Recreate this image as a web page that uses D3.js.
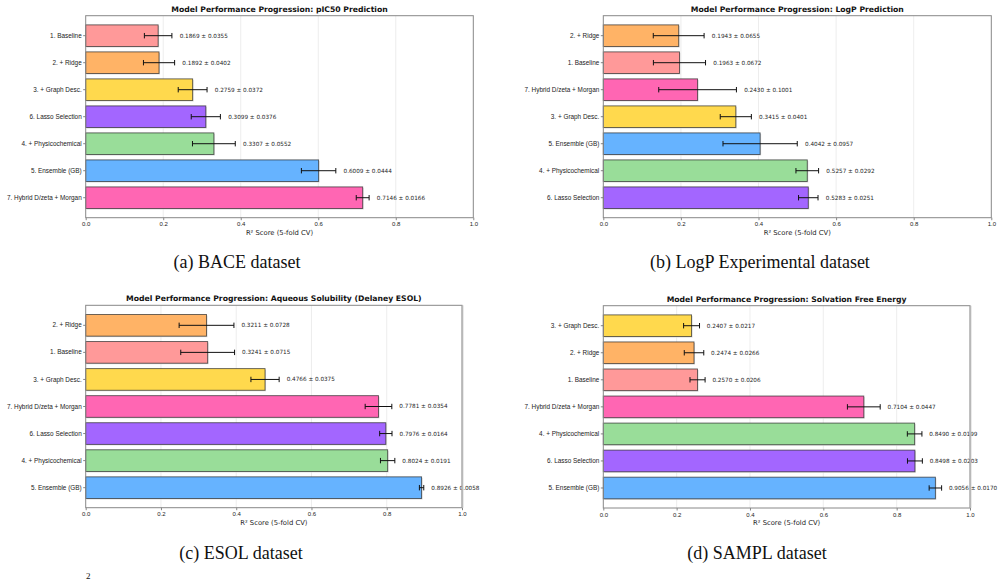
<!DOCTYPE html>
<html>
<head>
<meta charset="utf-8">
<script src="https://cdn.jsdelivr.net/npm/d3@7"></script>
<style>
  body { margin: 0; background: #fff; }
  svg { display: block; }
</style>
</head>
<body>
<div id="chart"></div>
<script>
// ---- data (top to bottom in each panel) ----
const baceMethods = ["1. Baseline", "2. + Ridge", "3. + Graph Desc.", "6. Lasso Selection", "4. + Physicochemical", "5. Ensemble (GB)", "7. Hybrid D/zeta + Morgan"];
const baceScores = [0.1869, 0.1892, 0.2759, 0.3099, 0.3307, 0.6009, 0.7146];
const baceStds = [0.0355, 0.0402, 0.0372, 0.0376, 0.0552, 0.0444, 0.0166];

const logpMethods = ["2. + Ridge", "1. Baseline", "7. Hybrid D/zeta + Morgan", "3. + Graph Desc.", "5. Ensemble (GB)", "4. + Physicochemical", "6. Lasso Selection"];
const logpScores = [0.1943, 0.1963, 0.2430, 0.3415, 0.4042, 0.5257, 0.5283];
const logpStds = [0.0655, 0.0672, 0.1001, 0.0401, 0.0957, 0.0292, 0.0251];

const esolMethods = ["2. + Ridge", "1. Baseline", "3. + Graph Desc.", "7. Hybrid D/zeta + Morgan", "6. Lasso Selection", "4. + Physicochemical", "5. Ensemble (GB)"];
const esolScores = [0.3211, 0.3241, 0.4766, 0.7781, 0.7976, 0.8024, 0.8926];
const esolStds = [0.0728, 0.0715, 0.0375, 0.0354, 0.0164, 0.0191, 0.0058];

const samplMethods = ["3. + Graph Desc.", "2. + Ridge", "1. Baseline", "7. Hybrid D/zeta + Morgan", "4. + Physicochemical", "6. Lasso Selection", "5. Ensemble (GB)"];
const samplScores = [0.2407, 0.2474, 0.2570, 0.7104, 0.8490, 0.8498, 0.9056];
const samplStds = [0.0217, 0.0266, 0.0206, 0.0447, 0.0199, 0.0203, 0.0170];

const xTicks = [0.0, 0.2, 0.4, 0.6, 0.8, 1.0];

const titles = [
  "Model Performance Progression: pIC50 Prediction",
  "Model Performance Progression: LogP Prediction",
  "Model Performance Progression: Aqueous Solubility (Delaney ESOL)",
  "Model Performance Progression: Solvation Free Energy"
];
const captions = ["(a) BACE dataset", "(b) LogP Experimental dataset", "(c) ESOL dataset", "(d) SAMPL dataset"];
const xLabel = "R² Score (5-fold CV)";

// colours keyed by method
const methodColor = {
  "1. Baseline": "#ff9999",
  "2. + Ridge": "#ffb366",
  "3. + Graph Desc.": "#ffd94d",
  "4. + Physicochemical": "#99dd99",
  "5. Ensemble (GB)": "#66b3ff",
  "6. Lasso Selection": "#a366ff",
  "7. Hybrid D/zeta + Morgan": "#ff66b3"
};

// panel boxes in page pixels
const panels = [
  { methods: baceMethods, scores: baceScores, stds: baceStds, x0: 85.7, x1: 473.3, y0: 15.7, y1: 217.7, capX: 237, capY: 262 },
  { methods: logpMethods, scores: logpScores, stds: logpStds, x0: 603.3, x1: 991.3, y0: 15.7, y1: 217.7, capX: 760, capY: 262 },
  { methods: esolMethods, scores: esolScores, stds: esolStds, x0: 85.7, x1: 462, y0: 305.3, y1: 507.7, capX: 241, capY: 553 },
  { methods: samplMethods, scores: samplScores, stds: samplStds, x0: 603.3, x1: 970, y0: 305.7, y1: 508, capX: 757, capY: 553 }
];

const svg = d3.select("#chart")
  .append("svg")
  .attr("width", 1002)
  .attr("height", 587)
  .style("font-family", "'DejaVu Sans', sans-serif");

panels.forEach((p, i) => {
  const data = p.methods.map((m, j) => ({ method: m, score: p.scores[j], std: p.stds[j] }));

  const x = d3.scaleLinear().domain([0, 1]).range([p.x0, p.x1]);
  const y = d3.scaleBand()
    .domain(p.methods)
    .range([p.y0, p.y1])
    .paddingInner(0.2)
    .paddingOuter(0.34);

  const g = svg.append("g");

  // vertical grid
  g.selectAll(".grid")
    .data(xTicks.slice(1, -1))
    .enter()
    .append("line")
    .attr("x1", d => x(d))
    .attr("x2", d => x(d))
    .attr("y1", p.y0)
    .attr("y2", p.y1)
    .attr("stroke", "#e8e8e8")
    .attr("stroke-width", 0.8);

  // faint shadow under bars
  g.selectAll(".shadow")
    .data(data)
    .enter()
    .append("rect")
    .attr("x", x(0) + 1)
    .attr("y", d => y(d.method) + 1)
    .attr("width", d => x(d.score) - x(0))
    .attr("height", y.bandwidth())
    .attr("fill", "#d8d8d8");

  // bars
  g.selectAll(".bar")
    .data(data)
    .enter()
    .append("rect")
    .attr("x", x(0))
    .attr("y", d => y(d.method))
    .attr("width", d => x(d.score) - x(0))
    .attr("height", y.bandwidth())
    .attr("fill", d => methodColor[d.method])
    .attr("stroke", "rgba(40,40,40,0.75)")
    .attr("stroke-width", 0.9);

  // error bars
  const eb = g.selectAll(".err")
    .data(data)
    .enter()
    .append("g")
    .attr("stroke", "#111")
    .attr("stroke-width", 1);
  eb.append("line")
    .attr("x1", d => x(d.score - d.std))
    .attr("x2", d => x(d.score + d.std))
    .attr("y1", d => y(d.method) + y.bandwidth() / 2)
    .attr("y2", d => y(d.method) + y.bandwidth() / 2);
  eb.append("line")
    .attr("x1", d => x(d.score - d.std))
    .attr("x2", d => x(d.score - d.std))
    .attr("y1", d => y(d.method) + y.bandwidth() / 2 - 2.7)
    .attr("y2", d => y(d.method) + y.bandwidth() / 2 + 2.7);
  eb.append("line")
    .attr("x1", d => x(d.score + d.std))
    .attr("x2", d => x(d.score + d.std))
    .attr("y1", d => y(d.method) + y.bandwidth() / 2 - 2.7)
    .attr("y2", d => y(d.method) + y.bandwidth() / 2 + 2.7);

  // value labels
  g.selectAll(".val")
    .data(data)
    .enter()
    .append("text")
    .attr("x", d => x(d.score + d.std + 0.02))
    .attr("y", d => y(d.method) + y.bandwidth() / 2)
    .attr("dy", "0.35em")
    .attr("font-size", "5.7px")
    .attr("fill", "#222")
    .text(d => d.score.toFixed(4) + " ± " + d.std.toFixed(4));

  // axes
  const xAxis = g.append("g")
    .attr("transform", `translate(0,${p.y1})`)
    .call(d3.axisBottom(x).tickValues(xTicks).tickFormat(d3.format(".1f")).tickSize(2.5).tickSizeOuter(0));
  xAxis.select(".domain").remove();
  xAxis.selectAll("line").attr("stroke", "#333").attr("stroke-width", 0.6);
  xAxis.selectAll("text").attr("font-size", "6px").attr("fill", "#222").attr("dy", "0.5em");

  const yAxis = g.append("g")
    .attr("transform", `translate(${p.x0},0)`)
    .call(d3.axisLeft(y).tickSize(2.5).tickSizeOuter(0));
  yAxis.select(".domain").remove();
  yAxis.selectAll("line").attr("stroke", "#333").attr("stroke-width", 0.6);
  yAxis.selectAll("text").attr("font-size", "6.4px").attr("fill", "#222").attr("x", -4);

  // frame
  g.append("rect")
    .attr("x", p.x0)
    .attr("y", p.y0)
    .attr("width", p.x1 - p.x0)
    .attr("height", p.y1 - p.y0)
    .attr("fill", "none")
    .attr("stroke", "#888")
    .attr("stroke-width", 1);
  if (i >= 2) {
    g.append("line")
      .attr("x1", p.x1 + 0.5).attr("x2", p.x1 + 0.5)
      .attr("y1", p.y0).attr("y2", p.y1)
      .attr("stroke", "#b8b8b8").attr("stroke-width", 1.6);
  }

  // title
  g.append("text")
    .attr("x", (p.x0 + p.x1) / 2)
    .attr("y", p.y0 - 4)
    .attr("text-anchor", "middle")
    .attr("font-size", "7.7px")
    .attr("font-weight", "bold")
    .attr("fill", "#111")
    .text(titles[i]);

  // x label
  g.append("text")
    .attr("x", (p.x0 + p.x1) / 2)
    .attr("y", p.y1 + 17)
    .attr("text-anchor", "middle")
    .attr("font-size", "6.8px")
    .attr("fill", "#222")
    .text(xLabel);

  // subfigure caption
  svg.append("text")
    .attr("x", p.capX)
    .attr("y", p.capY)
    .attr("text-anchor", "middle")
    .attr("dy", "0.35em")
    .attr("font-family", "'Liberation Serif', serif")
    .attr("font-size", "18px")
    .attr("fill", "#111")
    .text(captions[i]);
});

// clipped fragment of the figure caption below
svg.append("text")
  .attr("x", 86)
  .attr("y", 579)
  .attr("font-family", "'Liberation Serif', serif")
  .attr("font-size", "9px")
  .attr("fill", "#111")
  .text("2");
</script>
</body>
</html>
